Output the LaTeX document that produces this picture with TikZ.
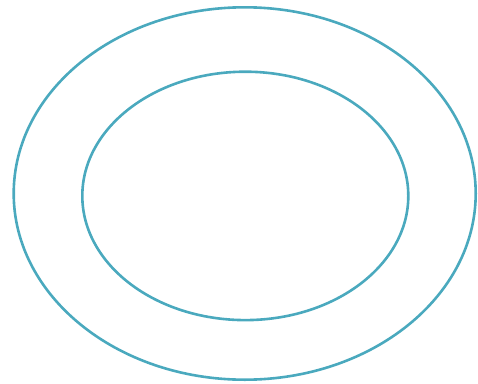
\documentclass[tikz,border=0pt]{standalone}
\usepackage{tikz}
\definecolor{ringteal}{HTML}{4AA9BE}

\begin{document}
\begin{tikzpicture}[x=1pt,y=-1pt]
  \useasboundingbox (0,0) rectangle (478,383);
  \coordinate (O) at (244.7,193.5);
  \coordinate (I) at (245.3,195.9);
  \draw[ringteal,line width=2.6pt] (O) ellipse[x radius=231,y radius=186.2];
  \draw[ringteal,line width=2.6pt] (I) ellipse[x radius=163,y radius=124.2];
\end{tikzpicture}
\end{document}
